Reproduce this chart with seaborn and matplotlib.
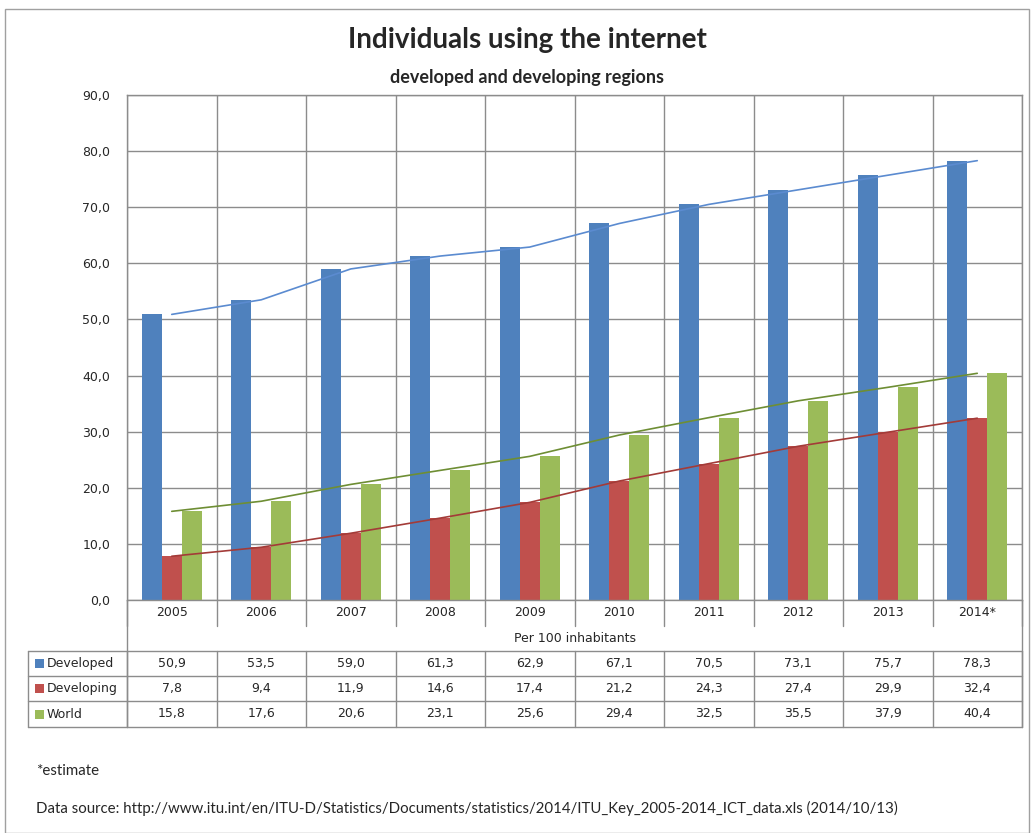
import numpy as np
import pandas as pd
import matplotlib
matplotlib.use("Agg")
import matplotlib.pyplot as plt
import seaborn as sns
from matplotlib.patches import Rectangle

# data (per 100 inhabitants)
years = ['2005', '2006', '2007', '2008', '2009', '2010', '2011', '2012', '2013', '2014*']
series = ['Developed', 'Developing', 'World']
developed = [50.9, 53.5, 59.0, 61.3, 62.9, 67.1, 70.5, 73.1, 75.7, 78.3]
developing = [7.8, 9.4, 11.9, 14.6, 17.4, 21.2, 24.3, 27.4, 29.9, 32.4]
world = [15.8, 17.6, 20.6, 23.1, 25.6, 29.4, 32.5, 35.5, 37.9, 40.4]

bar_colors = ['#4F81BD', '#C0504D', '#9BBB59']
line_colors = ['#5B8BD0', '#A33B38', '#6E8E34']
grid_col = '#8C8C8C'

values = {'Developed': developed, 'Developing': developing, 'World': world}
df = pd.DataFrame([(y, s, values[s][i]) for s in series for i, y in enumerate(years)],
                  columns=['year', 'series', 'value'])

sns.set_style('white')
plt.rcParams['font.family'] = ['DejaVu Sans']

W, H = 1034, 833
def fx(x): return x / W
def fy(y): return 1 - y / H

fig = plt.figure(figsize=(W / 100, H / 100), dpi=100)
fig.patches.append(Rectangle((fx(5), 0), fx(1029) - fx(5), fy(9), transform=fig.transFigure,
                             fill=False, edgecolor='#A0A0A0', lw=1))

# main chart
L, R, T, B = 127, 1022, 95, 600
ax = fig.add_axes([fx(L), fy(B), (R - L) / W, (B - T) / H])
sns.barplot(data=df, x='year', y='value', hue='series', order=years, hue_order=series,
            palette=bar_colors, width=0.67, saturation=1, legend=False, gap=0,
            linewidth=0, edgecolor='none', ax=ax)
for s, c in zip(series, line_colors):
    sns.lineplot(x=np.arange(len(years)), y=values[s], color=c, lw=1.2, ax=ax)

ax.set_xlim(-0.5, len(years) - 0.5)
ax.set_ylim(0, 90)
ax.set_yticks(np.arange(0, 91, 10))
ax.set_yticklabels([f'{v:.1f}'.replace('.', ',') for v in np.arange(0, 91, 10)], fontsize=9)
ax.set_xticks(np.arange(-0.5, len(years), 1))
ax.set_xticklabels([])
ax.tick_params(axis='x', length=0)
ax.tick_params(axis='y', length=4, color=grid_col, pad=8)
ax.set_xlabel('')
ax.set_ylabel('')
ax.set_axisbelow(True)
ax.grid(True, color=grid_col, lw=1)
for sp in ax.spines.values():
    sp.set_color(grid_col)
    sp.set_linewidth(1)

# data table under the chart
tab = fig.add_axes([fx(L), fy(727), (R - L) / W, (727 - B) / H])
tab.set_xlim(-0.5, len(years) - 0.5)
tab.set_ylim(727, B)
tab.axis('off')
colw = (R - L) / len(years)
left_edge = -0.5 - (L - 28) / colw
kw = dict(color=grid_col, lw=1, clip_on=False)
for k in range(len(years) + 1):
    x = -0.5 + k
    tab.plot([x, x], [B, 626], **kw)
    tab.plot([x, x], [651, 727], **kw)
tab.plot([-0.5, -0.5], [B, 727], **kw)
tab.plot([len(years) - 0.5] * 2, [B, 727], **kw)
tab.plot([left_edge, left_edge], [651, 727], **kw)
for y in [651, 676, 701, 727]:
    tab.plot([left_edge, len(years) - 0.5], [y, y], **kw)

for i, y in enumerate(years):
    tab.text(i, 613, y, ha='center', va='center', fontsize=9)
tab.text((len(years) - 1) / 2, 638, 'Per 100 inhabitants', ha='center', va='center', fontsize=9)

row_y = [663.5, 688.5, 714]
for s, c, ry in zip(series, bar_colors, row_y):
    tab.add_patch(Rectangle((left_edge + 7 / colw, ry + 4.5), 9 / colw, -9, facecolor=c,
                            edgecolor='none', clip_on=False))
    tab.text(left_edge + 19 / colw, ry, s, ha='left', va='center', fontsize=9)
    for i, v in enumerate(values[s]):
        tab.text(i, ry, f'{v:.1f}'.replace('.', ','), ha='center', va='center', fontsize=9)

# titles and notes
fig.text(fx(527), fy(40), 'Individuals using the internet', ha='center', va='center',
         fontsize=20, fontweight='bold', family='Lato')
fig.text(fx(527), fy(78), 'developed and developing regions', ha='center', va='center',
         fontsize=13, fontweight='bold', family='Lato')
fig.text(fx(36), fy(771), '*estimate', ha='left', va='center', fontsize=10.8, family='Lato')
fig.text(fx(36), fy(808),
         'Data source: http://www.itu.int/en/ITU-D/Statistics/Documents/statistics/2014/ITU_Key_2005-2014_ICT_data.xls (2014/10/13)',
         ha='left', va='center', fontsize=10.8, family='Lato')

fig.savefig('out.png', dpi=100, facecolor='white')
